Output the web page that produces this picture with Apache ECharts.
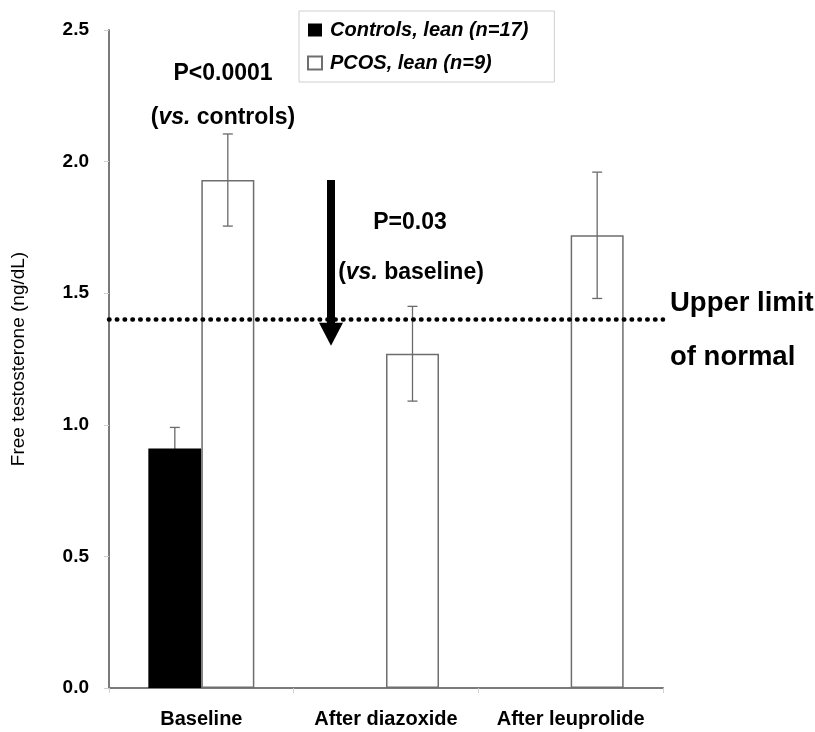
<!DOCTYPE html>
<html>
<head>
<meta charset="utf-8">
<script src="https://cdn.jsdelivr.net/npm/echarts@6/dist/echarts.min.js"></script>
<style>
  html, body { margin: 0; padding: 0; background: #fff; }
  #chart { width: 815px; height: 732px; }
</style>
</head>
<body>
<div id="chart"></div>
<script>
const FONT = "'Liberation Sans', Arial, sans-serif";

// categories + values (ng/dL)
const categories = ["Baseline", "After diazoxide", "After leuprolide"];
const controlsMean = [0.91, null, null];
const controlsErr = [0.08, null, null];
const pcosMean = [1.93, 1.27, 1.72];
const pcosErr = [0.175, 0.18, 0.24];
const upperLimit = 1.4;
// arrow: category index, start value, tip value
const arrowData = [[1, 1.93, 1.30]];

const BAR_W = 53;

const chart = echarts.init(document.getElementById("chart"));

function errItem(offset) {
  return function (params, api) {
    const idx = api.value(0);
    const m = api.value(1);
    const e = api.value(2);
    const top = api.coord([idx, m + e]);
    const bot = api.coord([idx, m - e]);
    const x = top[0] + offset;
    const cap = 5;
    const st = { stroke: "#6a6a6a", lineWidth: 1.3 };
    return {
      type: "group",
      children: [
        { type: "line", shape: { x1: x, y1: top[1], x2: x, y2: bot[1] }, style: st },
        { type: "line", shape: { x1: x - cap, y1: top[1], x2: x + cap, y2: top[1] }, style: st },
        { type: "line", shape: { x1: x - cap, y1: bot[1], x2: x + cap, y2: bot[1] }, style: st }
      ]
    };
  };
}

function arrowItem(params, api) {
  const idx = api.value(0);
  const p0 = api.coord([idx, api.value(1)]);
  const p1 = api.coord([idx, api.value(2)]);
  const x = p0[0] - BAR_W - 2;
  const headLen = 23, headW = 12, shaftW = 4;
  return {
    type: "group",
    children: [
      { type: "rect", shape: { x: x - shaftW, y: p0[1], width: shaftW * 2, height: p1[1] - p0[1] - headLen + 1 }, style: { fill: "#000" } },
      { type: "polygon", shape: { points: [[x - headW, p1[1] - headLen], [x + headW, p1[1] - headLen], [x, p1[1]]] }, style: { fill: "#000" } }
    ]
  };
}

const option = {
  backgroundColor: "#fff",
  animation: false,
  textStyle: { fontFamily: FONT },
  grid: { left: 109, right: 152, top: 30, bottom: 44 },
  legend: {
    left: 299,
    top: 11,
    orient: "vertical",
    padding: [9, 26, 9, 8],
    itemGap: 13,
    itemWidth: 14,
    itemHeight: 13,
    icon: "rect",
    borderColor: "#cfcfcf",
    borderWidth: 1,
    backgroundColor: "#fff",
    data: ["Controls, lean (n=17)", "PCOS, lean (n=9)"],
    textStyle: { fontFamily: FONT, fontSize: 20, fontWeight: "bold", fontStyle: "italic", color: "#000", padding: [0, 0, 0, 3] }
  },
  xAxis: {
    type: "category",
    data: categories,
    axisLine: { lineStyle: { color: "#7a7a7a", width: 2 } },
    axisTick: { show: true, length: 5, lineStyle: { color: "#d0d0d0" } },
    axisLabel: { interval: 0, hideOverlap: false, fontFamily: FONT, fontSize: 20, fontWeight: "bold", color: "#000", margin: 21 }
  },
  yAxis: {
    type: "value",
    min: 0,
    max: 2.5,
    interval: 0.5,
    name: "Free testosterone (ng/dL)",
    nameLocation: "middle",
    nameGap: 81,
    nameTextStyle: { fontFamily: FONT, fontSize: 19, color: "#000" },
    axisLine: { show: true, lineStyle: { color: "#7a7a7a", width: 2 } },
    axisTick: { show: true, length: 5, lineStyle: { color: "#d0d0d0" } },
    splitLine: { show: false },
    axisLabel: {
      fontFamily: FONT, fontSize: 19, fontWeight: "bold", color: "#000", margin: 20,
      formatter: v => v.toFixed(1)
    }
  },
  series: [
    {
      name: "Controls, lean (n=17)",
      type: "bar",
      data: controlsMean,
      barWidth: BAR_W,
      barGap: "0%",
      z: 2,
      itemStyle: { color: "#000" }
    },
    {
      name: "PCOS, lean (n=9)",
      type: "bar",
      data: pcosMean,
      barWidth: BAR_W,
      barGap: "0%",
      z: 2,
      itemStyle: { color: "rgba(255,255,255,0)", borderColor: "#6e6e6e", borderWidth: 1.5 },
      markLine: {
        silent: true,
        symbol: "none",
        label: { show: false },
        lineStyle: { color: "#000", type: [0.5, 7.3], width: 4.5, cap: "round" },
        data: [{ yAxis: upperLimit }]
      }
    },
    {
      type: "custom",
      z: 1,
      renderItem: errItem(-BAR_W / 2),
      data: controlsMean.map((m, i) => (m == null ? null : [i, m, controlsErr[i]])).filter(d => d)
    },
    {
      type: "custom",
      z: 3,
      renderItem: errItem(BAR_W / 2),
      data: pcosMean.map((m, i) => [i, m, pcosErr[i]])
    },
    {
      type: "custom",
      z: 4,
      renderItem: arrowItem,
      data: arrowData
    }
  ],
  graphic: [
    { type: "text", style: { text: "P<0.0001", x: 223, y: 74, align: "center", verticalAlign: "middle", font: "bold 23px " + FONT, fill: "#000" } },
    { type: "text", style: { text: "({i|vs.} controls)", x: 223, y: 118, align: "center", verticalAlign: "middle", font: "bold 23px " + FONT, fill: "#000",
      rich: { i: { fontStyle: "italic", fontWeight: "bold", fontSize: 23, fontFamily: FONT } } } },
    { type: "text", style: { text: "P=0.03", x: 410, y: 223, align: "center", verticalAlign: "middle", font: "bold 23px " + FONT, fill: "#000" } },
    { type: "text", style: { text: "({i|vs.} baseline)", x: 411, y: 273, align: "center", verticalAlign: "middle", font: "bold 23px " + FONT, fill: "#000",
      rich: { i: { fontStyle: "italic", fontWeight: "bold", fontSize: 23, fontFamily: FONT } } } },
    { type: "text", style: { text: "Upper limit", x: 670, y: 303, align: "left", verticalAlign: "middle", font: "bold 27.5px " + FONT, fill: "#000" } },
    { type: "text", style: { text: "of normal", x: 670, y: 357, align: "left", verticalAlign: "middle", font: "bold 27.5px " + FONT, fill: "#000" } }
  ]
};

chart.setOption(option);
</script>
</body>
</html>
